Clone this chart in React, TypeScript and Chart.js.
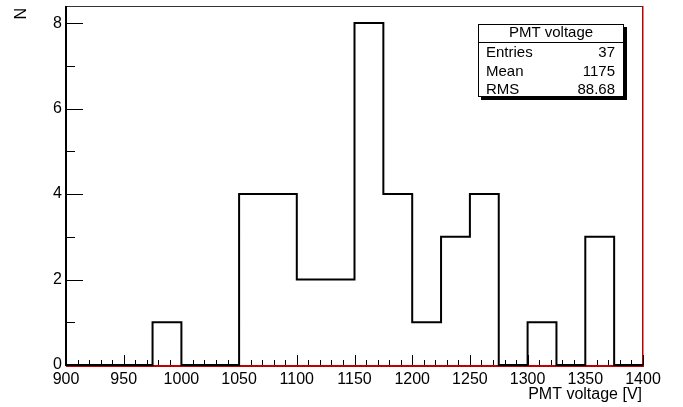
import React, { useEffect, useRef } from 'react';
import { Chart, registerables } from 'chart.js';

Chart.register(...registerables);

// ---- data ----
const binLowEdges = [900, 925, 950, 975, 1000, 1025, 1050, 1075, 1100, 1125, 1150, 1175, 1200, 1225, 1250, 1275, 1300, 1325, 1350, 1375];
const binCounts = [0, 0, 0, 1, 0, 0, 4, 4, 2, 2, 8, 4, 1, 3, 4, 0, 1, 0, 3, 0];
const binWidth = 25;
const xTickValues = [900, 950, 1000, 1050, 1100, 1150, 1200, 1250, 1300, 1350, 1400];
const yTickValues = [0, 2, 4, 6, 8];
const yMinorValues = [1, 3, 5, 7];
const xMin = 900;
const xMax = 1400;
const yMin = 0;
const yMax = 8.4;
const xAxisTitle = 'PMT voltage [V]';
const yAxisTitle = 'N';
const statTitle = 'PMT voltage';
const statLabels = ['Entries', 'Mean', 'RMS'];
const statValues = ['37', '1175', '88.68'];

const FONT = '"Liberation Sans", Arial, Helvetica, sans-serif';

const rootStyle = {
  id: 'rootStyle',
  beforeDatasetsDraw(chart: any) {
    const { ctx, chartArea } = chart;
    const { left, right, top, bottom } = chartArea;
    ctx.save();
    // frame
    ctx.fillStyle = '#c00000';
    ctx.fillRect(left, bottom, right - left + 1, 2);
    ctx.fillRect(right - 1, top, 1.5, bottom - top + 2);
    ctx.fillStyle = '#333333';
    ctx.fillRect(left, top, right - left - 1, 1);
    ctx.restore();
  },
  afterDatasetsDraw(chart: any) {
    const { ctx, chartArea, scales } = chart;
    const { left, right, top, bottom } = chartArea;
    const xs = scales.x;
    const ys = scales.y;
    ctx.save();
    ctx.fillStyle = '#000000';
    // left axis line
    ctx.fillRect(left - 1, top, 2, bottom - top + 1);
    // y ticks (inside)
    yTickValues.forEach((v) => {
      const py = Math.round(ys.getPixelForValue(v));
      ctx.fillRect(left, py, 17, 1);
    });
    yMinorValues.forEach((v) => {
      const py = Math.round(ys.getPixelForValue(v));
      ctx.fillRect(left, py, 9, 1);
    });
    // x ticks (inside)
    for (let v = xMin; v <= xMax; v += 10) {
      const px = Math.round(xs.getPixelForValue(v));
      const major = xTickValues.includes(v);
      const len = major ? 10 : 5;
      ctx.fillRect(px, bottom - len, 1, len);
    }
    // axis titles
    ctx.font = `16px ${FONT}`;
    ctx.textBaseline = 'alphabetic';
    ctx.textAlign = 'right';
    ctx.fillText(xAxisTitle, right - 1, 399);
    ctx.save();
    ctx.translate(26, top + 2);
    ctx.rotate(-Math.PI / 2);
    ctx.textAlign = 'right';
    ctx.fillText(yAxisTitle, 0, 0);
    ctx.restore();

    // stat box
    const bx = 478, by = 24, bw = 146, bh = 73;
    ctx.fillStyle = '#000000';
    ctx.fillRect(bx + 3, by + 3, bw, bh);
    ctx.fillStyle = '#ffffff';
    ctx.fillRect(bx, by, bw, bh);
    ctx.strokeStyle = '#000000';
    ctx.lineWidth = 1;
    ctx.strokeRect(bx + 0.5, by + 0.5, bw - 1, bh - 1);
    ctx.beginPath();
    ctx.moveTo(bx, by + 18.5);
    ctx.lineTo(bx + bw, by + 18.5);
    ctx.stroke();
    ctx.fillStyle = '#000000';
    ctx.font = `15px ${FONT}`;
    ctx.textAlign = 'center';
    ctx.fillText(statTitle, bx + bw / 2, by + 13);
    const rowBase = [57, 75.5, 93.5];
    statLabels.forEach((lab, i) => {
      ctx.textAlign = 'left';
      ctx.fillText(lab, bx + 8, rowBase[i]);
      ctx.textAlign = 'right';
      ctx.fillText(statValues[i], bx + bw - 9, rowBase[i]);
    });
    ctx.restore();
  },
};

export default function App() {
  const canvasRef = useRef<HTMLCanvasElement | null>(null);

  useEffect(() => {
    document.body.style.margin = '0';
    const canvas = canvasRef.current;
    if (!canvas) return;
    const points = binLowEdges.map((x, i) => ({ x, y: binCounts[i] }));
    points.push({ x: binLowEdges[binLowEdges.length - 1] + binWidth, y: binCounts[binCounts.length - 1] });

    const chart = new Chart(canvas, {
      type: 'line',
      data: {
        datasets: [
          {
            data: points,
            stepped: 'before',
            borderColor: '#000000',
            borderWidth: 2,
            pointRadius: 0,
            fill: false,
            clip: 6,
          } as any,
        ],
      },
      options: {
        animation: false,
        responsive: false,
        devicePixelRatio: 1,
        layout: { padding: { left: 0, right: 40, top: 6, bottom: 0 } },
        plugins: {
          legend: { display: false },
          tooltip: { enabled: false },
          title: { display: false },
        },
        scales: {
          x: {
            type: 'linear',
            min: xMin,
            max: xMax,
            grid: { display: false, drawTicks: false },
            border: { display: false },
            ticks: {
              autoSkip: false,
              maxRotation: 0,
              minRotation: 0,
              padding: 5,
              color: '#000000',
              font: { family: FONT, size: 16 },
              callback: (v: any) => String(v),
            },
            afterBuildTicks: (scale: any) => {
              scale.ticks = xTickValues.map((v) => ({ value: v }));
            },
            afterFit: (scale: any) => {
              scale.height = 42;
              scale.paddingLeft = 0;
              scale.paddingRight = 0;
            },
          },
          y: {
            type: 'linear',
            min: yMin,
            max: yMax,
            grid: { display: false, drawTicks: false },
            border: { display: false },
            ticks: {
              padding: 4,
              color: '#000000',
              font: { family: FONT, size: 16 },
              callback: (v: any) => String(v),
            },
            afterBuildTicks: (scale: any) => {
              scale.ticks = yTickValues.map((v) => ({ value: v }));
            },
            afterFit: (scale: any) => {
              scale.width = 66;
              scale.paddingTop = 0;
              scale.paddingBottom = 0;
            },
          },
        },
      } as any,
      plugins: [rootStyle],
    });
    return () => chart.destroy();
  }, []);

  return (
    <div style={{ width: 683, height: 407, background: '#ffffff' }}>
      <canvas ref={canvasRef} width={683} height={407} />
    </div>
  );
}
